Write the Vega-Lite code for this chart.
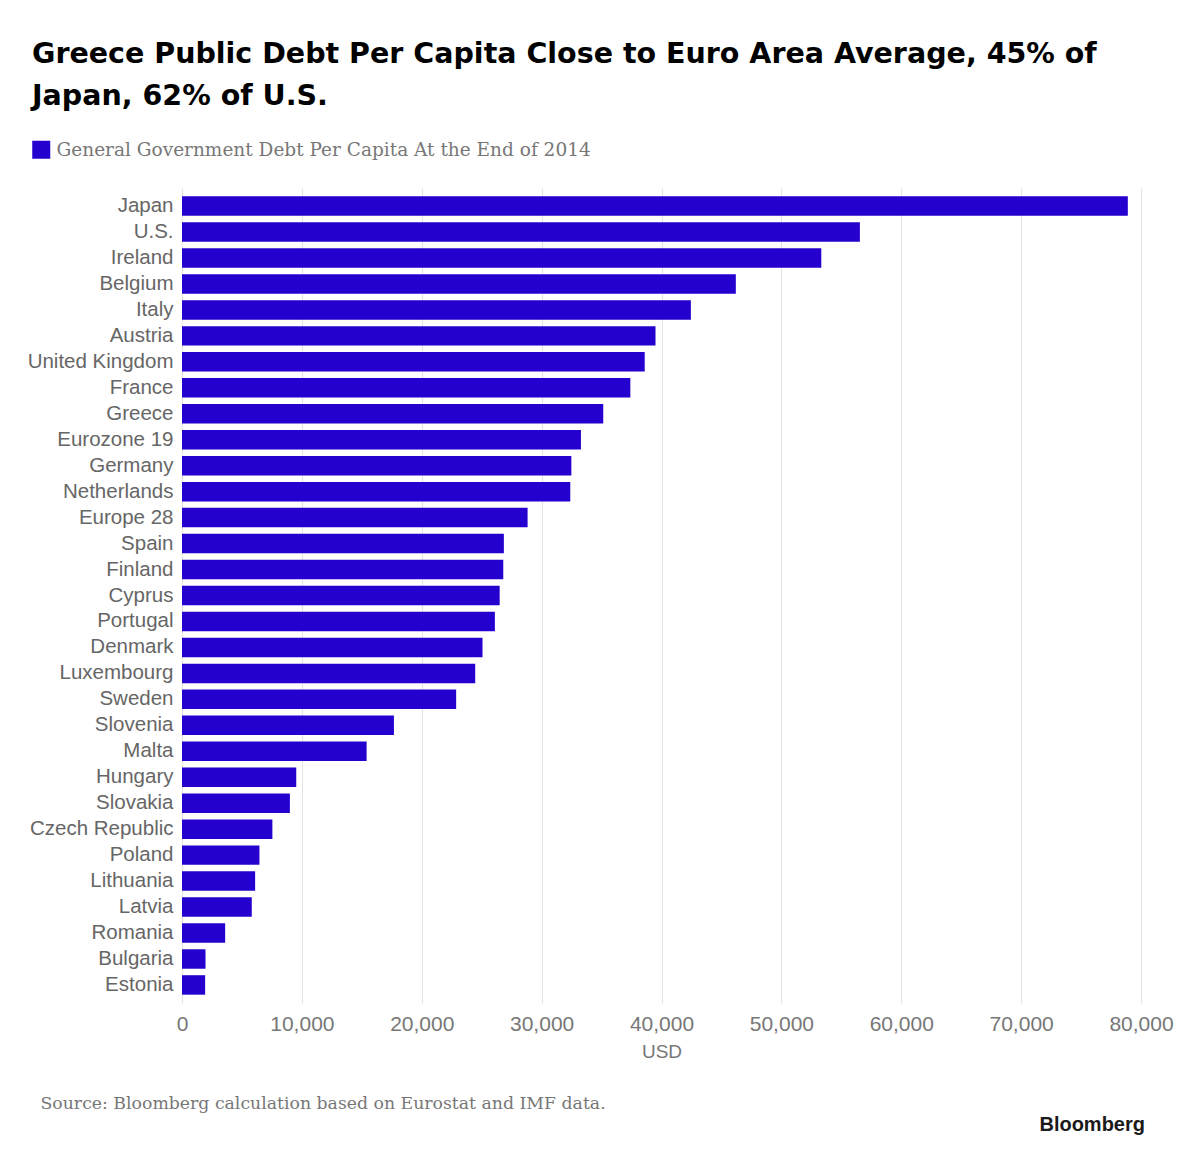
{
  "$schema": "https://vega.github.io/schema/vega-lite/v6.json",
  "autosize": "none",
  "width": 959,
  "height": 815,
  "padding": {"left": 182, "top": 188, "right": 59, "bottom": 157},
  "background": "white",
  "config": {"view": {"stroke": null}},
  "title": {
    "text": "Bloomberg",
    "orient": "bottom",
    "anchor": "end",
    "frame": "group",
    "dx": 4,
    "offset": 4,
    "font": "Liberation Sans",
    "fontSize": 20,
    "fontWeight": "bold",
    "color": "#1a1a1a"
  },
  "data": {
    "values": [
      {"country": "Japan", "debt": 78900},
      {"country": "U.S.", "debt": 56550},
      {"country": "Ireland", "debt": 53330},
      {"country": "Belgium", "debt": 46200},
      {"country": "Italy", "debt": 42450},
      {"country": "Austria", "debt": 39500},
      {"country": "United Kingdom", "debt": 38600},
      {"country": "France", "debt": 37400},
      {"country": "Greece", "debt": 35140},
      {"country": "Eurozone 19", "debt": 33280},
      {"country": "Germany", "debt": 32480},
      {"country": "Netherlands", "debt": 32390},
      {"country": "Europe 28", "debt": 28830},
      {"country": "Spain", "debt": 26850},
      {"country": "Finland", "debt": 26800},
      {"country": "Cyprus", "debt": 26500},
      {"country": "Portugal", "debt": 26100},
      {"country": "Denmark", "debt": 25070},
      {"country": "Luxembourg", "debt": 24460},
      {"country": "Sweden", "debt": 22870},
      {"country": "Slovenia", "debt": 17680},
      {"country": "Malta", "debt": 15400},
      {"country": "Hungary", "debt": 9530},
      {"country": "Slovakia", "debt": 9000},
      {"country": "Czech Republic", "debt": 7540},
      {"country": "Poland", "debt": 6460},
      {"country": "Lithuania", "debt": 6100},
      {"country": "Latvia", "debt": 5820},
      {"country": "Romania", "debt": 3600},
      {"country": "Bulgaria", "debt": 1960},
      {"country": "Estonia", "debt": 1930}
    ]
  },
  "mark": {"type": "bar"},
  "encoding": {
    "y": {
      "field": "country",
      "type": "nominal",
      "sort": null,
      "scale": {"paddingInner": 0.25, "paddingOuter": 0.32},
      "axis": {
        "title": "Source: Bloomberg calculation based on Eurostat and IMF data.",
        "titleAngle": 0,
        "titleAlign": "left",
        "titleBaseline": "alphabetic",
        "titleX": -142,
        "titleY": 920,
        "titleFont": "DejaVu Serif",
        "titleFontSize": 17.3,
        "titleFontWeight": "normal",
        "titleColor": "#777777",
        "domain": false,
        "ticks": false,
        "grid": false,
        "labelPadding": 9,
        "labelFont": "Liberation Sans",
        "labelFontSize": 20.5,
        "labelColor": "#666666"
      }
    },
    "x": {
      "field": "debt",
      "type": "quantitative",
      "scale": {"domain": [0, 80000], "nice": false},
      "axis": {
        "title": "USD",
        "values": [0, 10000, 20000, 30000, 40000, 50000, 60000, 70000, 80000],
        "format": ",.0f",
        "domain": false,
        "ticks": false,
        "grid": true,
        "gridColor": "#e3e3e3",
        "gridWidth": 1,
        "labelFlush": false,
        "labelPadding": 10,
        "labelFont": "Liberation Sans",
        "labelFontSize": 21,
        "labelColor": "#777777",
        "titleFont": "Liberation Sans",
        "titleFontSize": 19,
        "titleFontWeight": "normal",
        "titleColor": "#777777",
        "titlePadding": 8
      }
    },
    "color": {
      "datum": "General Government Debt Per Capita At the End of 2014",
      "type": "nominal",
      "scale": {"range": ["#2500cf"]},
      "legend": {
        "orient": "none",
        "legendX": -150,
        "legendY": -148,
        "title": ["Greece Public Debt Per Capita Close to Euro Area Average, 45% of", "Japan, 62% of U.S."],
        "titleFont": "DejaVu Sans",
        "titleFontSize": 28.5,
        "titleFontWeight": "bold",
        "titleColor": "#000000",
        "titleLineHeight": 42,
        "titleLimit": 1200,
        "titlePadding": 30,
        "symbolType": "square",
        "symbolSize": 324,
        "symbolStrokeWidth": 0,
        "symbolOpacity": 1,
        "labelFont": "DejaVu Serif",
        "labelFontSize": 18.5,
        "labelColor": "#777777",
        "labelOffset": 6,
        "labelLimit": 1000
      }
    }
  }
}
